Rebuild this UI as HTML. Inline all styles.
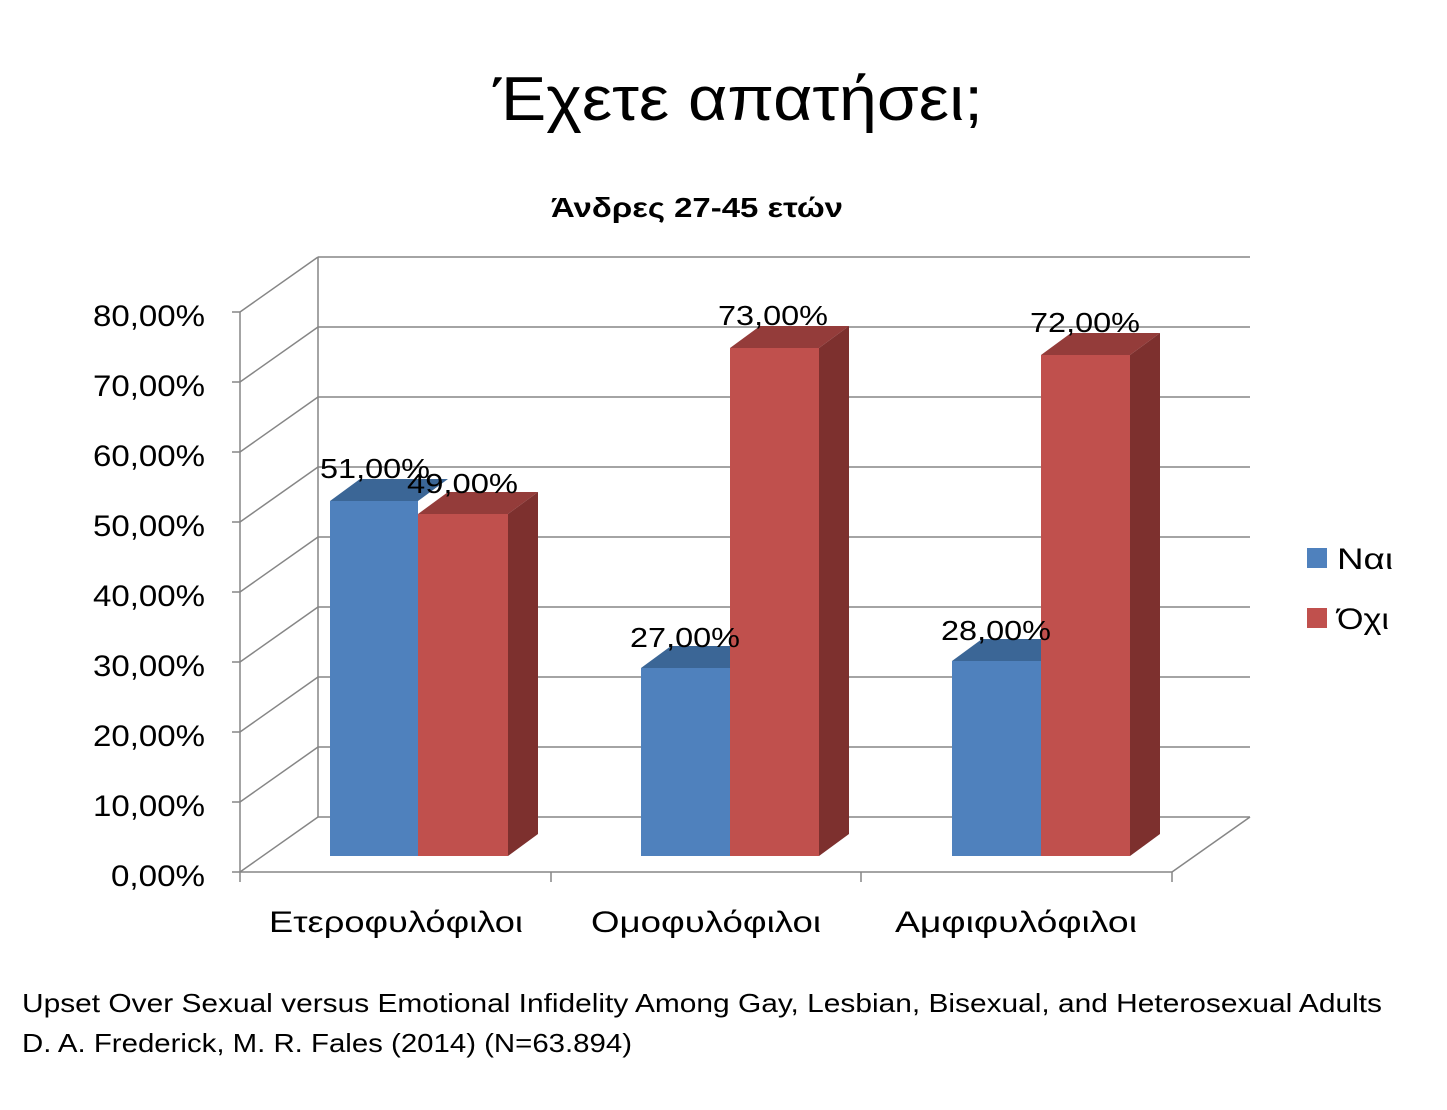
<!DOCTYPE html>
<html><head><meta charset="utf-8"><style>
html,body{margin:0;padding:0;background:#fff}
svg{display:block}
text{font-family:"Liberation Sans","DejaVu Sans",sans-serif;fill:#000}
</style></head><body>
<svg width="1447" height="1110" viewBox="0 0 1447 1110" xmlns="http://www.w3.org/2000/svg">
<text x="738" y="120" font-size="62" text-anchor="middle" textLength="490" lengthAdjust="spacingAndGlyphs">Έχετε απατήσει;</text>
<text x="697" y="217" font-size="28" font-weight="bold" text-anchor="middle" textLength="292" lengthAdjust="spacingAndGlyphs">Άνδρες 27-45 ετών</text>
<g stroke="#868686" stroke-width="1.5" fill="none">
<line x1="240" y1="312" x2="240" y2="872"/>
<line x1="318" y1="257" x2="318" y2="817"/>
<g id="g">
<line x1="318" y1="257" x2="1250" y2="257"/><line x1="240" y1="312" x2="318" y2="257"/>
<line x1="318" y1="327" x2="1250" y2="327"/><line x1="240" y1="382" x2="318" y2="327"/>
<line x1="318" y1="397" x2="1250" y2="397"/><line x1="240" y1="452" x2="318" y2="397"/>
<line x1="318" y1="467" x2="1250" y2="467"/><line x1="240" y1="522" x2="318" y2="467"/>
<line x1="318" y1="537" x2="1250" y2="537"/><line x1="240" y1="592" x2="318" y2="537"/>
<line x1="318" y1="607" x2="1250" y2="607"/><line x1="240" y1="662" x2="318" y2="607"/>
<line x1="318" y1="677" x2="1250" y2="677"/><line x1="240" y1="732" x2="318" y2="677"/>
<line x1="318" y1="747" x2="1250" y2="747"/><line x1="240" y1="802" x2="318" y2="747"/>
<line x1="318" y1="817" x2="1250" y2="817"/><line x1="240" y1="872" x2="318" y2="817"/>
</g>
<line x1="240" y1="872" x2="1172" y2="872"/>
<line x1="1172" y1="872" x2="1250" y2="817"/>
<line x1="232" y1="312" x2="240" y2="312"/><line x1="232" y1="382" x2="240" y2="382"/><line x1="232" y1="452" x2="240" y2="452"/><line x1="232" y1="522" x2="240" y2="522"/><line x1="232" y1="592" x2="240" y2="592"/><line x1="232" y1="662" x2="240" y2="662"/><line x1="232" y1="732" x2="240" y2="732"/><line x1="232" y1="802" x2="240" y2="802"/><line x1="232" y1="872" x2="240" y2="872"/>
<line x1="240" y1="872" x2="240" y2="882"/><line x1="551" y1="872" x2="551" y2="882"/><line x1="861" y1="872" x2="861" y2="882"/><line x1="1172" y1="872" x2="1172" y2="882"/>
</g>
<!-- group 1 -->
<polygon points="330,501 360,479 448,479 418,501" fill="#3b6696"/>
<rect x="330" y="501" width="88" height="355" fill="#4F81BD"/>
<polygon points="418,514 448,492 538,492 508,514" fill="#943c3a"/>
<polygon points="508,514 538,492 538,834 508,856" fill="#7d302e"/>
<rect x="418" y="514" width="90" height="342" fill="#C0504D"/>
<!-- group 2 -->
<polygon points="641,668 671,646 760,646 730,668" fill="#3b6696"/>
<rect x="641" y="668" width="89" height="188" fill="#4F81BD"/>
<polygon points="730,348 760,326 849,326 819,348" fill="#943c3a"/>
<polygon points="819,348 849,326 849,834 819,856" fill="#7d302e"/>
<rect x="730" y="348" width="89" height="508" fill="#C0504D"/>
<!-- group 3 -->
<polygon points="952,661 982,639 1071,639 1041,661" fill="#3b6696"/>
<rect x="952" y="661" width="89" height="195" fill="#4F81BD"/>
<polygon points="1041,355 1071,333 1160,333 1130,355" fill="#943c3a"/>
<polygon points="1130,355 1160,333 1160,834 1130,856" fill="#7d302e"/>
<rect x="1041" y="355" width="89" height="501" fill="#C0504D"/>
<g font-size="28">
<text x="320" y="478" textLength="110" lengthAdjust="spacingAndGlyphs">51,00%</text>
<text x="407" y="493" textLength="111" lengthAdjust="spacingAndGlyphs">49,00%</text>
<text x="718" y="325" textLength="110" lengthAdjust="spacingAndGlyphs">73,00%</text>
<text x="630" y="647" textLength="110" lengthAdjust="spacingAndGlyphs">27,00%</text>
<text x="1030" y="332" textLength="110" lengthAdjust="spacingAndGlyphs">72,00%</text>
<text x="941" y="640" textLength="110" lengthAdjust="spacingAndGlyphs">28,00%</text>
</g>
<g font-size="30" text-anchor="end">
<text x="205" y="326" textLength="112" lengthAdjust="spacingAndGlyphs">80,00%</text>
<text x="205" y="396" textLength="112" lengthAdjust="spacingAndGlyphs">70,00%</text>
<text x="205" y="466" textLength="112" lengthAdjust="spacingAndGlyphs">60,00%</text>
<text x="205" y="536" textLength="112" lengthAdjust="spacingAndGlyphs">50,00%</text>
<text x="205" y="606" textLength="112" lengthAdjust="spacingAndGlyphs">40,00%</text>
<text x="205" y="676" textLength="112" lengthAdjust="spacingAndGlyphs">30,00%</text>
<text x="205" y="746" textLength="112" lengthAdjust="spacingAndGlyphs">20,00%</text>
<text x="205" y="816" textLength="112" lengthAdjust="spacingAndGlyphs">10,00%</text>
<text x="205" y="886" textLength="94" lengthAdjust="spacingAndGlyphs">0,00%</text>
</g>
<g font-size="30" text-anchor="middle">
<text x="396" y="932" textLength="254" lengthAdjust="spacingAndGlyphs">Ετεροφυλόφιλοι</text>
<text x="706" y="932" textLength="230" lengthAdjust="spacingAndGlyphs">Ομοφυλόφιλοι</text>
<text x="1016" y="932" textLength="242" lengthAdjust="spacingAndGlyphs">Αμφιφυλόφιλοι</text>
</g>
<rect x="1307" y="548" width="20" height="20" fill="#4F81BD"/>
<rect x="1307" y="608" width="20" height="20" fill="#C0504D"/>
<text x="1337" y="569" font-size="30" textLength="56" lengthAdjust="spacingAndGlyphs">Ναι</text>
<text x="1337" y="629" font-size="30" textLength="52" lengthAdjust="spacingAndGlyphs">Όχι</text>
<text x="22" y="1012" font-size="26" textLength="1360" lengthAdjust="spacingAndGlyphs">Upset Over Sexual versus Emotional Infidelity Among Gay, Lesbian, Bisexual, and Heterosexual Adults</text>
<text x="22" y="1052" font-size="26" textLength="610" lengthAdjust="spacingAndGlyphs">D. A. Frederick, M. R. Fales (2014) (N=63.894)</text>
</svg>
</body></html>
